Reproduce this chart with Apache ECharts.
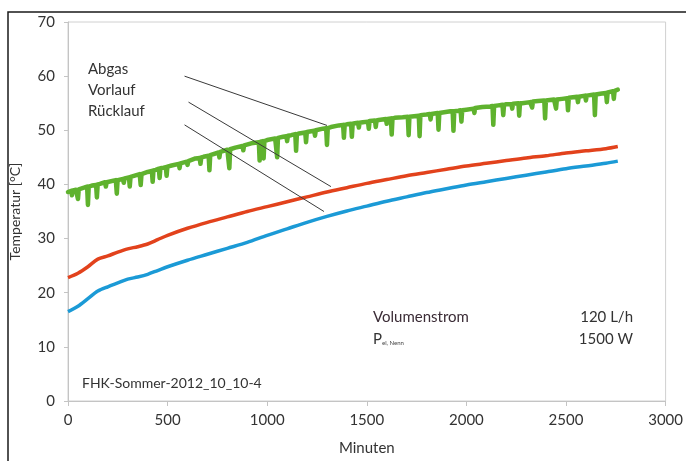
<!DOCTYPE html>
<html><head><meta charset="utf-8">
<script src="https://cdn.jsdelivr.net/npm/echarts@6/dist/echarts.min.js"></script>
<style>html,body{margin:0;padding:0;background:#fff}#c{width:686px;height:461px}</style>
</head><body><div id="c"></div>
<script>
// ---- data ----
const xTicks = [0, 500, 1000, 1500, 2000, 2500, 3000];
const yTicks = [0, 10, 20, 30, 40, 50, 60, 70];
const rbMinutes = [0,50,100,150,200,250,300,350,400,450,500,600,700,800,900,1000,1100,1200,1300,1400,1500,1600,1700,1800,1900,2000,2100,2200,2300,2400,2500,2600,2700,2760];
const vorlauf = [22.8,23.6,24.8,26.2,26.8,27.5,28.1,28.5,29.0,29.8,30.6,31.9,33.0,34.0,35.0,35.9,36.8,37.7,38.6,39.4,40.2,40.9,41.6,42.2,42.8,43.4,43.9,44.4,44.9,45.3,45.8,46.2,46.6,47.0];
const ruecklauf = [16.5,17.5,18.9,20.3,21.1,21.8,22.5,22.9,23.4,24.1,24.8,26.0,27.1,28.2,29.3,30.6,31.8,33.0,34.1,35.1,36.0,36.9,37.7,38.5,39.2,39.9,40.5,41.1,41.7,42.3,42.9,43.4,43.9,44.3];
const abgasMinutes = [0,16,20,24,40,46,50,54,80,96,100,104,120,141,145,149,160,186,190,194,200,240,245,249,276,280,284,306,310,314,320,360,365,369,400,421,425,429,440,456,460,464,480,491,495,499,520,556,560,564,596,600,604,640,661,665,669,680,706,710,714,720,756,760,764,800,806,810,814,840,876,880,884,920,958,962,966,978,982,986,1000,1040,1046,1050,1054,1080,1096,1100,1104,1120,1141,1145,1149,1160,1191,1195,1199,1236,1240,1244,1280,1296,1300,1304,1320,1360,1381,1385,1389,1400,1421,1425,1429,1440,1456,1460,1464,1480,1506,1510,1514,1541,1545,1549,1560,1596,1600,1604,1621,1625,1629,1640,1680,1706,1710,1714,1720,1761,1765,1769,1800,1816,1820,1824,1840,1856,1860,1864,1880,1920,1931,1935,1939,1960,1971,1975,1979,2000,2036,2040,2044,2080,2120,2131,2135,2139,2160,2181,2185,2189,2200,2226,2230,2234,2261,2265,2269,2280,2320,2326,2330,2334,2360,2391,2395,2399,2440,2446,2450,2454,2480,2506,2510,2514,2556,2560,2564,2596,2600,2604,2641,2645,2649,2680,2701,2705,2709,2736,2740,2744,2760];
const abgas = [38.6,38.8,38.0,38.9,39.0,39.0,37.3,39.1,39.4,39.6,36.2,39.6,39.8,39.9,37.6,40.0,40.1,40.4,39.6,40.4,40.5,40.8,38.3,40.8,41.0,40.3,41.1,41.3,39.6,41.4,41.5,41.9,39.9,41.9,42.3,42.5,40.5,42.6,42.7,42.9,41.2,43.0,43.1,43.2,41.6,43.3,43.5,43.8,43.0,43.9,44.2,43.6,44.3,44.8,44.9,43.8,45.0,45.1,45.3,42.6,45.4,45.5,45.9,45.0,46.0,46.4,46.4,43.0,46.5,46.8,47.1,46.3,47.2,47.6,47.8,44.4,47.9,48.0,44.8,48.0,48.2,48.5,48.5,45.0,48.6,48.8,48.9,48.0,49.0,49.1,49.3,46.2,49.3,49.4,49.6,47.8,49.7,49.9,49.0,50.0,50.3,50.4,47.3,50.4,50.6,50.9,51.0,48.6,51.0,51.1,51.2,48.8,51.2,51.3,51.4,50.5,51.4,51.5,51.6,50.3,51.7,51.8,50.6,51.8,51.9,52.1,51.2,52.1,52.2,49.2,52.2,52.3,52.4,52.5,49.1,52.5,52.6,52.7,48.9,52.8,52.9,53.0,52.0,53.0,53.1,53.2,50.1,53.2,53.3,53.5,53.5,49.9,53.5,53.6,53.7,51.6,53.7,53.8,54.0,53.2,54.1,54.3,54.4,54.5,51.0,54.5,54.6,54.7,52.8,54.7,54.8,54.8,54.0,54.9,55.0,52.7,55.0,55.0,55.2,55.2,54.2,55.3,55.4,55.5,52.2,55.5,55.7,55.7,54.0,55.7,55.8,55.9,53.7,56.0,56.2,55.2,56.2,56.4,55.5,56.4,56.6,52.8,56.6,56.8,56.9,55.2,57.0,57.2,55.8,57.3,57.5];
// annotation leader lines: [minutes, temperature] start -> end
const leaderAbgas = [[585, 60.0], [1300, 50.9]];
const leaderVorlauf = [[605, 55.2], [1320, 39.6]];
const leaderRuecklauf = [[585, 51.0], [1285, 35.0]];

const zip = (xs, ys) => xs.map((x, i) => [x, ys[i]]);
const FONT = 'Lato';
const chart = echarts.init(document.getElementById('c'));
chart.setOption({
  animation: false,
  backgroundColor: '#fff',
  grid: { left: 68, right: 19, top: 22, bottom: 55, show: true, borderColor: '#d0d0d0', borderWidth: 1 },
  xAxis: {
    type: 'value', min: xTicks[0], max: xTicks[xTicks.length-1], interval: 500,
    name: 'Minuten', nameLocation: 'middle', nameGap: 40,
    nameTextStyle: { fontFamily: FONT, fontSize: 15, color: '#333' },
    axisLine: { lineStyle: { color: '#c4c4c4' } },
    axisTick: { show: true, length: 5, lineStyle: { color: '#c4c4c4' } },
    axisLabel: { fontFamily: FONT, fontSize: 15, color: '#333', margin: 12, formatter: v => String(v) },
    splitLine: { show: false }
  },
  yAxis: {
    type: 'value', min: yTicks[0], max: yTicks[yTicks.length-1], interval: 10,
    name: 'Temperatur [°C]', nameLocation: 'middle', nameGap: 46, nameRotate: 90,
    nameTextStyle: { fontFamily: FONT, fontSize: 14, color: '#333', padding: [0, 0, 0, 0] },
    axisLine: { show: true, lineStyle: { color: '#c4c4c4' } },
    axisTick: { show: true, length: 4, lineStyle: { color: '#c4c4c4' } },
    axisLabel: { fontFamily: FONT, fontSize: 15, color: '#333', margin: 13, formatter: v => String(v) },
    splitLine: { show: false }
  },
  series: [
    { name: 'Abgas', type: 'line', data: zip(abgasMinutes, abgas), showSymbol: false,
      lineStyle: { color: '#5fb22e', width: 4.5, join: 'round', cap: 'round' }, z: 2 },
    { name: 'Vorlauf', type: 'line', data: zip(rbMinutes, vorlauf), showSymbol: false, smooth: 0.3,
      lineStyle: { color: '#e2421c', width: 3.5 }, z: 3 },
    { name: 'Rücklauf', type: 'line', data: zip(rbMinutes, ruecklauf), showSymbol: false, smooth: 0.3,
      lineStyle: { color: '#1b9ad6', width: 3.5 }, z: 4,
      markLine: {
        silent: true, symbol: ['none', 'none'], label: { show: false },
        lineStyle: { color: '#3a3a3a', width: 1, type: 'solid' },
        data: [
          [{ coord: leaderAbgas[0] }, { coord: leaderAbgas[1] }],
          [{ coord: leaderVorlauf[0] }, { coord: leaderVorlauf[1] }],
          [{ coord: leaderRuecklauf[0] }, { coord: leaderRuecklauf[1] }]
        ]
      } }
  ],
  graphic: [
    { type: 'rect', shape: { x: 8, y: 12, width: 700, height: 470 }, style: { fill: 'none', stroke: '#1a1a1a', lineWidth: 1.5 }, silent: true },
    { type: 'text', left: 88, top: 62, style: { text: 'Abgas', font: '15px Lato', fill: '#333' } },
    { type: 'text', left: 88, top: 83, style: { text: 'Vorlauf', font: '15px Lato', fill: '#333' } },
    { type: 'text', left: 88, top: 104, style: { text: 'Rücklauf', font: '15px Lato', fill: '#333' } },
    { type: 'text', left: 373, top: 310, style: { text: 'Volumenstrom', font: '15px Lato', fill: '#3b2c36' } },
    { type: 'text', left: 373, top: 332, style: { rich: { p: { fontFamily: FONT, fontSize: 15, fill: '#333' }, s: { fontFamily: FONT, fontSize: 6, fill: '#444', padding: [8, 0, 0, 0] } }, text: '{p|P}{s|el, Nenn}' } },
    { type: 'text', right: 53, top: 310, style: { text: '120 L/h', font: '15px Lato', fill: '#333', textAlign: 'right' } },
    { type: 'text', right: 53, top: 332, style: { text: '1500 W', font: '15px Lato', fill: '#333', textAlign: 'right' } },
    { type: 'text', left: 82, top: 376, style: { text: 'FHK-Sommer-2012_10_10-4', font: '14px Lato', fill: '#333' } }
  ]
});
</script></body></html>
